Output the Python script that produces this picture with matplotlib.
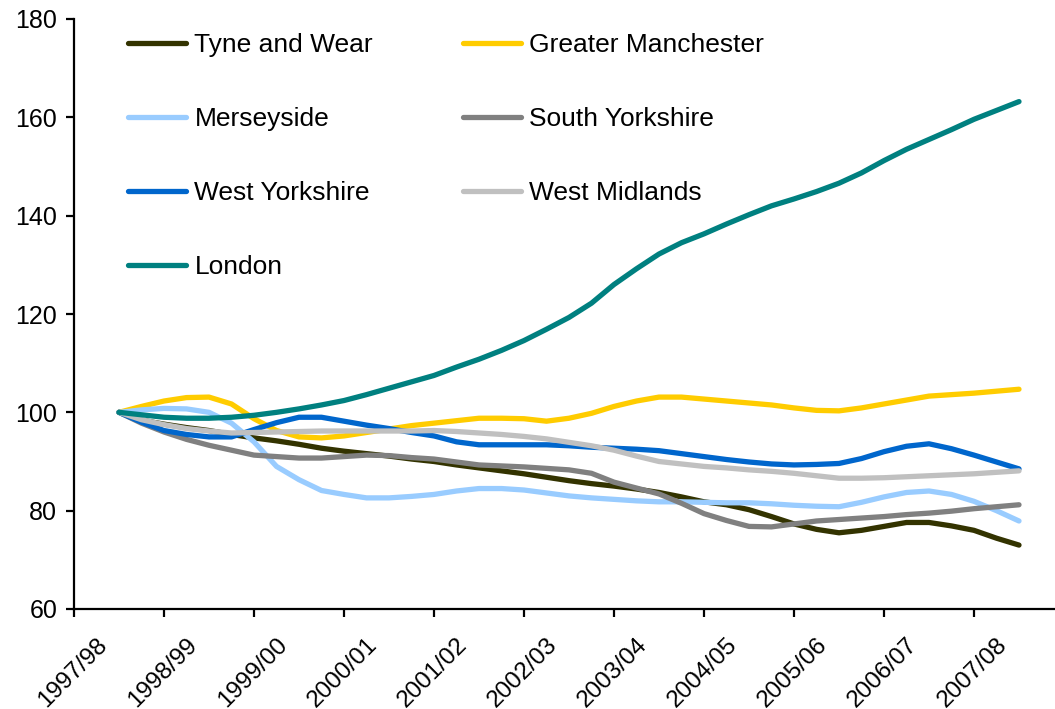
import numpy as np
import matplotlib
matplotlib.use("Agg")
import matplotlib.pyplot as plt
import matplotlib.transforms as mtransforms

plt.rcParams['font.family'] = ['Liberation Sans', 'DejaVu Sans']

# quarterly index (1997/98 = 100), 41 quarters
years = ['1997/98', '1998/99', '1999/00', '2000/01', '2001/02', '2002/03',
         '2003/04', '2004/05', '2005/06', '2006/07', '2007/08']

tyne_wear = [100, 98.4, 97.6, 96.9, 96.3, 95.5, 94.8, 94.2, 93.5, 92.7,
             92.1, 91.6, 91.1, 90.5, 90.0, 89.3, 88.7, 88.1, 87.5, 86.8,
             86.1, 85.5, 85.0, 84.4, 83.7, 82.8, 81.8, 81.2, 80.2, 78.8,
             77.3, 76.2, 75.5, 76.0, 76.8, 77.6, 77.6, 76.9, 76.0, 74.4, 73.0]
greater_manchester = [100, 101.2, 102.3, 103.0, 103.1, 101.7, 98.7, 96.3, 95.0, 94.8,
                      95.2, 95.9, 96.6, 97.3, 97.8, 98.3, 98.8, 98.8, 98.7, 98.2,
                      98.8, 99.8, 101.2, 102.3, 103.1, 103.1, 102.7, 102.3, 101.9, 101.5,
                      100.9, 100.4, 100.3, 100.9, 101.7, 102.5, 103.3, 103.6, 103.9, 104.3, 104.7]
merseyside = [100, 100.5, 100.8, 100.7, 100.0, 97.8, 94.0, 89.0, 86.3, 84.1,
              83.3, 82.6, 82.6, 82.9, 83.3, 84.0, 84.5, 84.5, 84.2, 83.6,
              83.0, 82.6, 82.3, 82.0, 81.8, 81.8, 81.7, 81.6, 81.6, 81.4,
              81.1, 80.9, 80.8, 81.7, 82.8, 83.7, 84.0, 83.3, 81.9, 80.0, 77.9]
south_yorkshire = [100, 97.8, 96.0, 94.5, 93.3, 92.3, 91.3, 91.0, 90.7, 90.7,
                   91.0, 91.3, 91.2, 90.8, 90.5, 89.9, 89.3, 89.1, 88.9, 88.6,
                   88.3, 87.6, 85.8, 84.6, 83.4, 81.5, 79.4, 78.0, 76.8, 76.7,
                   77.3, 77.9, 78.2, 78.5, 78.8, 79.2, 79.5, 79.9, 80.4, 80.8, 81.2]
west_yorkshire = [100, 98.0, 96.3, 95.5, 95.0, 95.0, 96.5, 97.9, 99.0, 99.0,
                  98.2, 97.4, 96.7, 95.9, 95.2, 94.0, 93.4, 93.4, 93.4, 93.4,
                  93.2, 92.9, 92.7, 92.5, 92.2, 91.6, 91.0, 90.4, 89.9, 89.5,
                  89.3, 89.4, 89.6, 90.6, 92.0, 93.1, 93.6, 92.6, 91.3, 89.9, 88.5]
west_midlands = [100, 98.5, 97.5, 96.7, 96.2, 95.8, 95.9, 96.0, 96.1, 96.2,
                 96.2, 96.2, 96.2, 96.2, 96.3, 96.1, 95.8, 95.5, 95.1, 94.6,
                 93.9, 93.2, 92.3, 91.1, 90.0, 89.5, 89.0, 88.7, 88.3, 88.0,
                 87.6, 87.1, 86.6, 86.6, 86.7, 86.9, 87.1, 87.3, 87.5, 87.8, 88.1]
london = [100, 99.5, 99.0, 98.8, 98.8, 99.0, 99.4, 100.0, 100.7, 101.5,
          102.4, 103.6, 104.9, 106.2, 107.5, 109.2, 110.8, 112.6, 114.6, 116.9,
          119.3, 122.2, 126.0, 129.2, 132.2, 134.5, 136.3, 138.3, 140.2, 142.0,
          143.4, 144.9, 146.6, 148.7, 151.2, 153.5, 155.5, 157.5, 159.6, 161.4, 163.2]

series = [
    ('Tyne and Wear', tyne_wear, '#333300'),
    ('Greater Manchester', greater_manchester, '#FFCC00'),
    ('Merseyside', merseyside, '#99CCFF'),
    ('South Yorkshire', south_yorkshire, '#808080'),
    ('West Yorkshire', west_yorkshire, '#0066CC'),
    ('West Midlands', west_midlands, '#C0C0C0'),
    ('London', london, '#008080'),
]

W, H = 1055, 709
fig = plt.figure(figsize=(W / 100, H / 100), dpi=100)
ax = fig.add_axes([74 / W, (H - 609) / H, 990 / W, 590 / H])

quarters = np.arange(len(london)) + 2
lines = []
for name, vals, col in series:
    ln, = ax.plot(quarters, vals, color=col, lw=3.8, solid_capstyle='round',
                  solid_joinstyle='round', label=name)
    lines.append(ln)

ax.set_xlim(0, 44)
ax.set_ylim(60, 180)
ax.set_yticks(np.arange(60, 181, 20))
year_ticks = np.arange(0, 41, 4)
ax.set_xticks(year_ticks)
ax.set_xticklabels([])

# rotated year labels, shifted right of the tick like the Excel original
offset = mtransforms.ScaledTranslation(0.22, -0.25, fig.dpi_scale_trans)
for xt, lab in zip(year_ticks, years):
    ax.text(xt, 0, lab, transform=ax.get_xaxis_transform() + offset,
            rotation=45, ha='right', va='top', rotation_mode='anchor',
            fontsize=17.5, clip_on=False)

for s in ['top', 'right']:
    ax.spines[s].set_visible(False)
for s in ['left', 'bottom']:
    ax.spines[s].set_linewidth(1.6)
ax.tick_params(axis='both', direction='out', length=6, width=1.6, labelsize=18, colors='black')
ax.tick_params(axis='y', pad=6)

# legend filled row by row like the original (two columns)
order = [0, 2, 4, 6, 1, 3, 5]
ax.legend([lines[i] for i in order], [series[i][0] for i in order],
          ncols=2, loc='upper left', bbox_to_anchor=(128 / W, 1 - 33 / H),
          bbox_transform=fig.transFigure, frameon=False, fontsize=19,
          handlelength=2.2, handletextpad=0.32, columnspacing=3.4,
          labelspacing=1.9, borderpad=0, borderaxespad=0)

fig.savefig('out.png', dpi=100)
